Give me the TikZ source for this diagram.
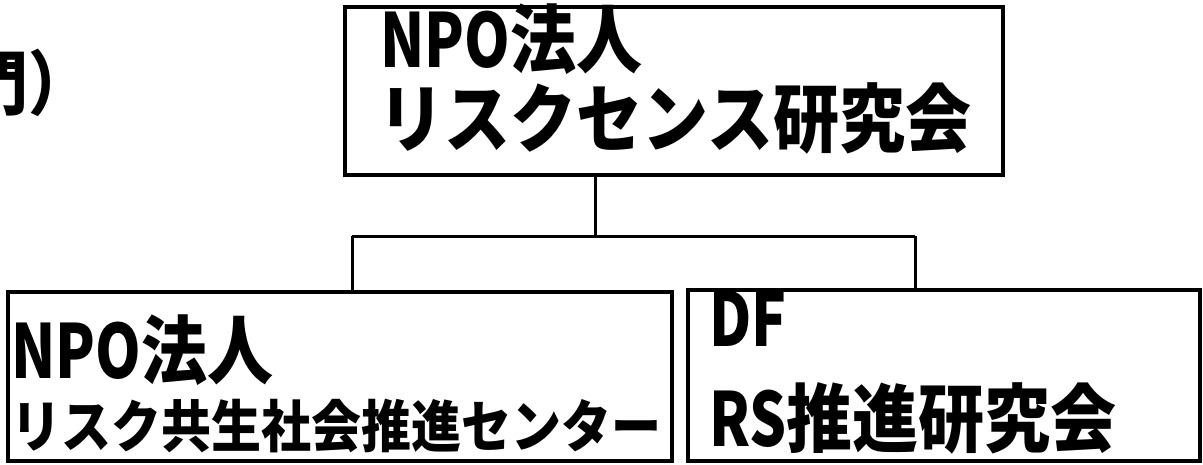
\documentclass[tikz,border=0pt]{standalone}
\usepackage{graphicx}
\usepackage{fontspec}
\newfontfamily\jpfont{Noto Sans CJK JP}
\usepackage{tikz}

% stretched type, latin parts narrower
\newcommand{\tall}[1]{\scalebox{1}[1.13]{#1}}
\newcommand{\lat}[1]{\scalebox{0.88}[1]{#1}}

\begin{document}
\begin{tikzpicture}[x=0.5pt,y=-0.5pt,
  orgbox/.style={draw, line width=2pt, inner sep=0pt},
  lbl/.style={anchor=base west, inner sep=0pt, font=\jpfont\bfseries\fontsize{33}{40}\selectfont},
  lblsmall/.style={anchor=base west, inner sep=0pt, font=\jpfont\bfseries\fontsize{25}{30}\selectfont},
]
\useasboundingbox (0,0) rectangle (1203,465);

% boxes
\node [orgbox, minimum width=329pt, minimum height=84pt] (rsk) at (674,91) {};
\node [orgbox, minimum width=332pt, minimum height=84.5pt] (rcc) at (340,376.5) {};
\node [orgbox, minimum width=256pt, minimum height=85.5pt] (dfrs) at (944,375.5) {};

% texts
\node [lbl] (rsk1) at (380,68) {\tall{\lat{NPO}法人}};
\node [lbl] (rsk2) at (378,146) {\tall{リスクセンス研究会}};
\node [lbl] (rcc1) at (11,378) {\tall{\lat{NPO}法人}};
\node [lblsmall] (rcc2) at (11,447) {\tall{リスク共生社会推進センター}};
\node [lbl] (dfrs1) at (709,346) {\tall{\lat{DF}}};
\node [lbl] (dfrs2) at (709,446) {\tall{\lat{RS}推進研究会}};
\node [anchor=base west, inner sep=0pt, font=\jpfont\bfseries\fontsize{31}{36}\selectfont] (dept) at (-34,110) {\tall{門）}};

% connectors
\coordinate (trunk) at (595,236);
\coordinate (jl) at (352,236);
\coordinate (jr) at (915,236);
\draw [line width=1.5pt] (trunk |- rsk.south) -- (trunk);
\draw [line width=1.5pt] (jl) -- (jr);
\draw [line width=1.5pt] (jl) -- (jl |- rcc.north);
\draw [line width=1.5pt] (jr) -- (jr |- dfrs.north);
\end{tikzpicture}
\end{document}
